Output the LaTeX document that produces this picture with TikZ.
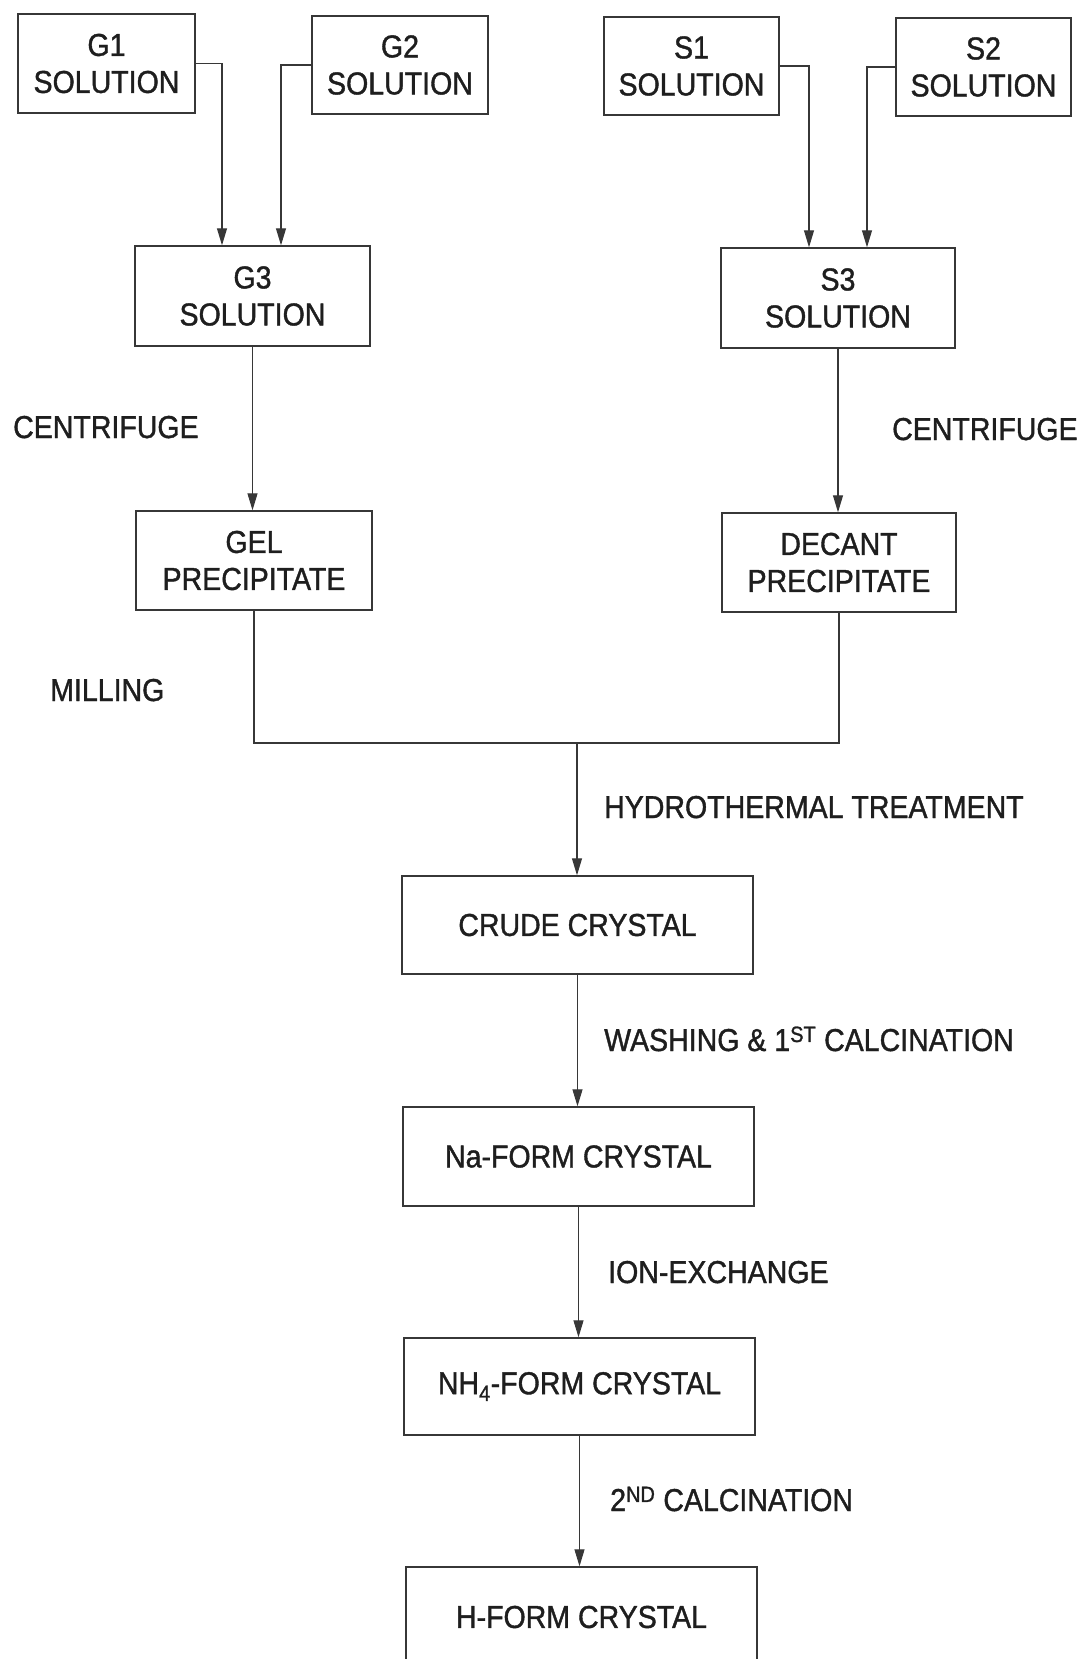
\documentclass[tikz,border=0pt]{standalone}
\usepackage{fontspec}
\setmainfont[FakeStretch=0.9,FakeBold=1.2]{Liberation Sans}
\usetikzlibrary{arrows.meta}
\definecolor{ink}{RGB}{30,30,30}
\definecolor{edge}{RGB}{55,55,55}
\tikzset{
  box/.style={draw=edge, line width=1.4pt, align=center, inner sep=0pt, text=ink,
              font=\fontsize{31.7}{37}\selectfont},
  lbl/.style={anchor=base west, inner sep=0pt, text=ink, font=\fontsize{31.7}{37}\selectfont},
  conn/.style={draw=edge, line width=1.1pt},
  arr/.style={conn, -{Triangle[length=17pt,width=10pt]}}
}
\begin{document}
\begin{tikzpicture}[x=1pt,y=-1pt]
\useasboundingbox (0,0) rectangle (1083,1659);
\clip (0,0) rectangle (1083,1659);
% boxes
\node[box, minimum width=177pt, minimum height=99pt] (G1) at (106.5,63.5) {G1\\SOLUTION};
\node[box, minimum width=176pt, minimum height=98pt] (G2) at (400,65) {G2\\SOLUTION};
\node[box, minimum width=175pt, minimum height=98pt] (S1) at (691.5,66) {S1\\SOLUTION};
\node[box, minimum width=175pt, minimum height=98pt] (S2) at (983.5,67) {S2\\SOLUTION};
\node[box, minimum width=235pt, minimum height=100pt] (G3) at (252.5,296) {G3\\SOLUTION};
\node[box, minimum width=234pt, minimum height=100pt] (S3) at (838,298) {S3\\SOLUTION};
\node[box, minimum width=236pt, minimum height=99pt] (GEL) at (254,560.5) {GEL\\PRECIPITATE};
\node[box, minimum width=234pt, minimum height=99pt] (DEC) at (839,562.5) {DECANT\\PRECIPITATE};
\node[box, minimum width=351pt, minimum height=98pt] (CRU) at (577.5,925) {CRUDE CRYSTAL};
\node[box, minimum width=351pt, minimum height=99pt] (NA) at (578.5,1156.5) {Na-FORM CRYSTAL};
\node[box, minimum width=351pt, minimum height=97pt] (NH) at (579.5,1386.5) {NH\textsubscript{4}-FORM CRYSTAL};
\node[box, minimum width=351pt, minimum height=100pt] (HF) at (581.5,1617) {H-FORM CRYSTAL};
% labels
\node[lbl] (l1) at (13,438) {CENTRIFUGE};
\node[lbl] (l2) at (892,440) {CENTRIFUGE};
\node[lbl] (l3) at (50,701) {MILLING};
\node[lbl] (l4) at (604,818) {HYDROTHERMAL TREATMENT};
\node[lbl] (l5) at (604,1051) {WASHING \& 1\textsuperscript{ST} CALCINATION};
\node[lbl] (l6) at (608,1283) {ION-EXCHANGE};
\node[lbl] (l7) at (610,1511) {2\textsuperscript{ND} CALCINATION};
% drop coordinates
\coordinate (g1d) at (222,0);
\coordinate (g2d) at (281,0);
\coordinate (s1d) at (809,0);
\coordinate (s2d) at (867,0);
\coordinate (join) at (577,743);
% connectors
\draw[arr] (G1.east) -| (g1d |- G3.north);
\draw[arr] (G2.west) -| (g2d |- G3.north);
\draw[arr] (S1.east) -| (s1d |- S3.north);
\draw[arr] (S2.west) -| (s2d |- S3.north);
\draw[arr] (G3.south) -- (G3.south |- GEL.north);
\draw[arr] (S3.south) -- (S3.south |- DEC.north);
\draw[conn] (GEL.south) |- (join);
\draw[conn] (DEC.south) |- (join);
\draw[arr] (join) -- (join |- CRU.north);
\draw[arr] (CRU.south) -- (CRU.south |- NA.north);
\draw[arr] (NA.south) -- (NA.south |- NH.north);
\draw[arr] (NH.south) -- (NH.south |- HF.north);
\end{tikzpicture}
\end{document}
